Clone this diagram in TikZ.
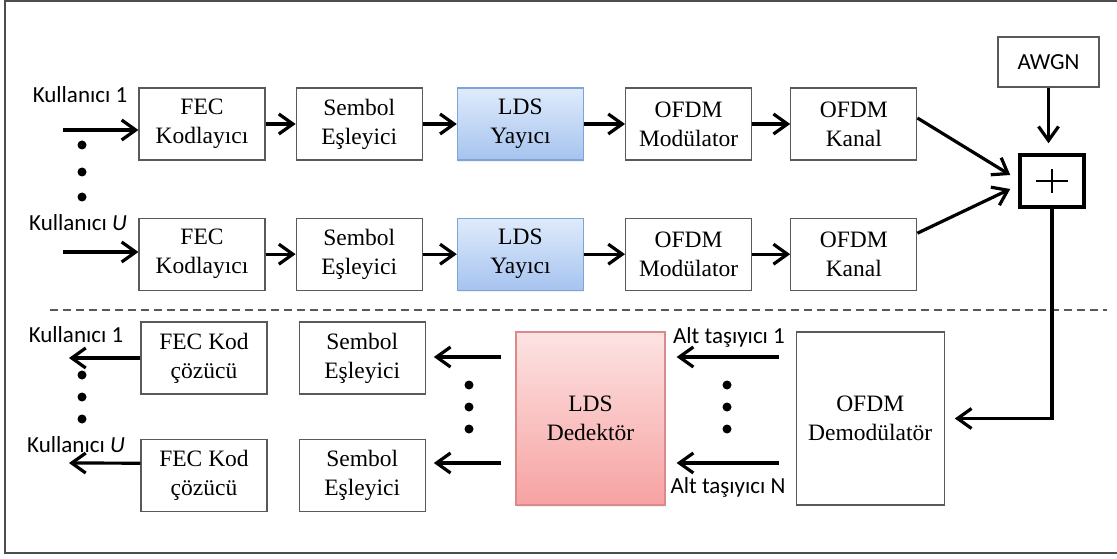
\documentclass[tikz,border=0pt]{standalone}
\usepackage{fontspec}
\setmainfont{Liberation Serif}
\newfontfamily\labelfont{Carlito}
\usepackage{xcolor}
\usetikzlibrary{arrows.meta, positioning, shadows}
\definecolor{boxgray}{HTML}{595959}
\definecolor{framegray}{HTML}{4D4D4D}
\definecolor{ldsline}{HTML}{7EA3D6}
\definecolor{ldstop}{HTML}{DFEBFB}
\definecolor{ldsbottom}{HTML}{A6C3EF}
\definecolor{detline}{HTML}{D98A8A}
\definecolor{dettop}{HTML}{FDE3E3}
\definecolor{detbottom}{HTML}{F7A2A2}
\tikzstyle{block} = [rectangle, minimum width=126pt, minimum height=72pt, inner sep=0pt, align=center, draw=boxgray, line width=1.2pt, fill=white, font=\fontsize{23.5}{29}\selectfont]
\tikzstyle{spreader} = [block, draw=ldsline, top color=ldstop, bottom color=ldsbottom, drop shadow={opacity=0.12, shadow xshift=1pt, shadow yshift=-2pt}]
\tikzstyle{detector} = [block, minimum width=149pt, minimum height=173pt, draw=detline, top color=dettop, bottom color=detbottom, drop shadow={opacity=0.12, shadow xshift=1pt, shadow yshift=-2pt}]
\tikzstyle{adder} = [rectangle, minimum width=64pt, minimum height=52pt, inner sep=0pt, draw=black, line width=3.5pt, path picture={\draw[line width=1.4pt] ([xshift=-16pt]path picture bounding box.center) -- ([xshift=16pt]path picture bounding box.center); \draw[line width=1.4pt] ([yshift=-12pt]path picture bounding box.center) -- ([yshift=12pt]path picture bounding box.center);}]
\tikzstyle{lbl} = [inner sep=0pt, font=\labelfont\fontsize{23}{27}\selectfont]
\tikzstyle{arrow} = [line width=3.2pt, -{Straight Barb[length=14pt, width=20pt]}]

\begin{document}
\begin{tikzpicture}[x=1pt, y=-1pt]
\useasboundingbox (0,0) rectangle (1117,559);
\draw[framegray, line width=1.5pt] (5,1) rectangle (1125,553);

% Transmitter - user 1
\node (fec1) [block] at (202,124) {FEC\\Kodlayıcı};
\node (map1) [block, right=30pt of fec1] {Sembol\\Eşleyici};
\node (spr1) [spreader, right=34pt of map1] {LDS\\Yayıcı};
\node (mod1) [block, right=41pt of spr1] {OFDM\\Modülator};
\node (ch1) [block, right=38pt of mod1] {OFDM\\Kanal};

% Transmitter - user U
\node (fec2) [block, below=57pt of fec1] {FEC\\Kodlayıcı};
\node (map2) [block, below=57pt of map1] {Sembol\\Eşleyici};
\node (spr2) [spreader, below=57pt of spr1] {LDS\\Yayıcı};
\node (mod2) [block, below=57pt of mod1] {OFDM\\Modülator};
\node (ch2) [block, below=57pt of ch1] {OFDM\\Kanal};

% Noise and sum
\node (awgn) [block, minimum width=101pt, minimum height=50pt, font=\labelfont\fontsize{23}{27}\selectfont] at (1048.5,62) {AWGN};
\node (sum) [adder] at (1052,181) {};

% Inputs
\node (txu1) [lbl] at (80,95) {Kullanıcı 1};
\node (txuU) [lbl] at (78,223) {Kullanıcı \textit{U}};
\coordinate (in1) at (63,130);
\coordinate (in2) at (63,252);
\fill (82,145) circle (4.5) (82,172) circle (4.5) (82,197) circle (4.5);

% Separator
\draw[boxgray, line width=1.2pt, dash pattern=on 8pt off 5pt] (50,310) -- (1107,310);

% Receiver
\node (dec1) [block] at (204,358) {FEC Kod\\çözücü};
\node (dec2) [block, below=44pt of dec1] {FEC Kod\\çözücü};
\node (dmap1) [block, right=31pt of dec1] {Sembol\\Eşleyici};
\node (dmap2) [block, right=31pt of dec2] {Sembol\\Eşleyici};
\node (det) [detector] at (590.5,418.5) {LDS\\Dedektör};
\node (demod) [block, minimum width=148pt, minimum height=173pt, right=130pt of det] {OFDM\\Demodülatör};

\node (rxu1) [lbl] at (76,335) {Kullanıcı 1};
\node (rxuU) [lbl] at (76,445) {Kullanıcı \textit{U}};
\node (sub1) [lbl] at (729,337) {Alt taşıyıcı 1};
\node (subN) [lbl] at (728,487) {Alt taşıyıcı N};
\coordinate (out1) at (69,358);
\coordinate (out2) at (69,463);
\coordinate (row1) at (0,357);
\coordinate (row2) at (0,463);
\fill (82,375) circle (4.5) (82,397) circle (4.5) (82,419) circle (4.5);
\fill (469,385) circle (4.5) (469,407) circle (4.5) (469,429) circle (4.5);
\fill (727,385) circle (4.5) (727,407) circle (4.5) (727,429) circle (4.5);

% Arrows - transmitter
\draw [arrow] (in1) -- (in1 -| fec1.west);
\draw [arrow] (in2) -- (in2 -| fec2.west);
\draw [arrow] (fec1) -- (map1);
\draw [arrow] (map1) -- (spr1);
\draw [arrow] (spr1) -- (mod1);
\draw [arrow] (mod1) -- (ch1);
\draw [arrow] (fec2) -- (map2);
\draw [arrow] (map2) -- (spr2);
\draw [arrow] (spr2) -- (mod2);
\draw [arrow] (mod2) -- (ch2);
\draw [arrow] ([yshift=6pt]ch1.east) -- ([xshift=-8pt, yshift=6pt]sum.west);
\draw [arrow] ([yshift=21pt]ch2.east) -- ([xshift=-8pt, yshift=-8pt]sum.west);
\draw [arrow, shorten >=10pt] (awgn.south) -- (awgn.south |- sum.north);
\draw [arrow] (sum.south) |- ([xshift=10pt]demod.east);

% Arrows - receiver
\draw [arrow] (dec1.west) -- (out1);
\draw [arrow] ([yshift=12pt]dec2.west) -- (out2);
\draw [arrow, shorten <=14pt, shorten >=8pt] (det.west |- row1) -- (dmap1.east |- row1);
\draw [arrow, shorten <=14pt, shorten >=8pt] (det.west |- row2) -- (dmap2.east |- row2);
\draw [arrow, shorten <=17pt, shorten >=11pt] (demod.west |- row1) -- (det.east |- row1);
\draw [arrow, shorten <=17pt, shorten >=11pt] (demod.west |- row2) -- (det.east |- row2);

\end{tikzpicture}
\end{document}
